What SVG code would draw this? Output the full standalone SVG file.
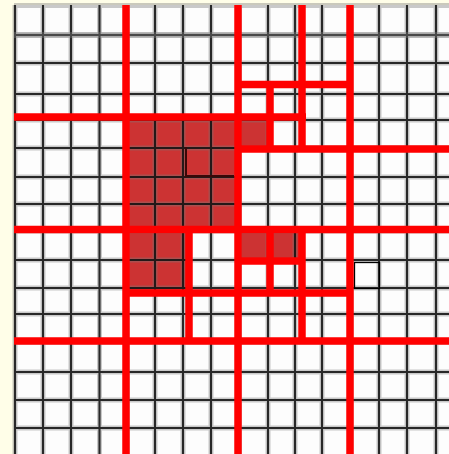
<svg xmlns="http://www.w3.org/2000/svg" width="449" height="454" viewBox="0 0 449 454">
  <style>
    .halo { stroke: #7a7a7a; stroke-width: 5; stroke-opacity: 0.4; fill: none; }
    .core { stroke: #111111; stroke-width: 2.1; stroke-opacity: 0.88; fill: none; }
    .fillc { fill: #cc3333; }
    .crack { stroke: #3a0808; stroke-width: 2; fill: none; }
    .red { stroke: #ff0000; stroke-width: 7.5; fill: none; stroke-linecap: butt; }
  </style>
  <rect x="0" y="0" width="449" height="454" fill="#fffee8"/>
  <rect x="14" y="5" width="435" height="449" fill="#fdfdfd"/>
  <g id="filled-cells">
    <rect class="fillc" x="126" y="117" width="112" height="112"/>
    <rect class="fillc" x="126" y="229" width="63" height="64"/>
    <rect class="fillc" x="238" y="117" width="32" height="32"/>
    <rect class="fillc" x="238" y="229" width="32" height="32"/>
    <rect class="fillc" x="270" y="229" width="32" height="32"/>
  </g>
  <g id="grid">
    <path class="halo" d="M15 5V454M43 5V454M71 5V454M99.5 5V454M127 5V454M155 5V454M183 5V454M211 5V454M239.5 5V454M268 5V454M295 5V454M322 5V454M351 5V454M379 5V454M407 5V454M436 5V454 M14 5.5H449M14 35H449M14 63H449M14 94H449M14 120H449M14 148H449M14 177H449M14 204H449M14 231H449M14 260H449M14 288H449M14 314H449M14 342H449M14 372H449M14 400H449M14 428H449"/>
    <path class="core" d="M15 5V454M43 5V454M71 5V454M99.5 5V454M127 5V454M155 5V454M183 5V454M211 5V454M239.5 5V454M268 5V454M295 5V454M322 5V454M351 5V454M379 5V454M407 5V454M436 5V454 M14 35H449M14 63H449M14 94H449M14 120H449M14 148H449M14 177H449M14 204H449M14 231H449M14 260H449M14 288H449M14 314H449M14 342H449M14 372H449M14 400H449M14 428H449"/>
    <path class="halo" d="M14 35H449" style="stroke-width:6"/>
    <path class="crack" d="M186 147V176H234"/>
    <rect x="354.5" y="262.5" width="25" height="26" fill="none" stroke="#000" stroke-width="1.3"/>
  </g>
  <g id="red-lines">
    <path class="red" d="M126 5V454M238 5V454M350 5V454M14 117H306M14 229.5H449M14 341H449"/>
    <path class="red" d="M302 5V149M238 84.5H350M270 84.5V149M238 149H449"/>
    <path class="red" d="M189 229V341M126 293H350M270 229V293M238 261H302M302 229V341"/>
  </g>
</svg>
